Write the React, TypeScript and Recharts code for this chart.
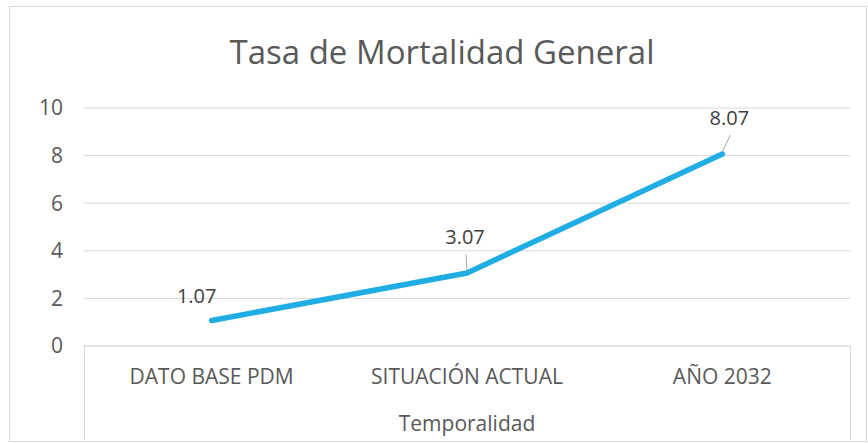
import { LineChart, Line, XAxis, YAxis, CartesianGrid, LabelList, Label } from 'recharts'

const categories = ['DATO BASE PDM', 'SITUACIÓN ACTUAL', 'AÑO 2032']
const tasa = [1.07, 3.07, 8.07]
const yTicks = [0, 2, 4, 6, 8, 10]

// manual nudges of the data labels (Excel moved them by hand)
const labelNudge = [
  { dx: -15, dy: -25 },
  { dx: -2, dy: -36 },
  { dx: 7, dy: -36 }
]

const data = categories.map((name, i) => ({ name, tasa: tasa[i] }))

const FONT = '"Open Sans", sans-serif'
const GRID = '#d9d9d9'
const BLUE = '#1fade4'

const DataLabel = (props: any) => {
  const { x, y, value, index } = props
  const n = labelNudge[index] || { dx: 0, dy: -25 }
  const lx = x + n.dx
  const ly = y + n.dy
  const showLeader = Math.abs(n.dy) > 30
  return (
    <g>
      {showLeader && (
        <line x1={lx + 1} y1={ly + 17} x2={x} y2={y - 2} stroke="#a6a6a6" strokeWidth={1} />
      )}
      <text x={lx} y={ly} textAnchor="middle" dominantBaseline="central" fill="#404040" fontSize={20} fontFamily={FONT}>
        {Number(value).toFixed(2)}
      </text>
    </g>
  )
}

const App = () => {
  return (
    <div style={{ position: 'absolute', left: 0, top: 0, width: 868, height: 443, background: '#fff' }}>
      <div style={{ position: 'absolute', left: 9, top: 6, width: 856, height: 434, border: `1px solid ${GRID}` }} />
      <div
        style={{
          position: 'absolute',
          left: 0,
          top: 30,
          width: 884,
          textAlign: 'center',
          fontFamily: FONT,
          fontSize: 33,
          color: '#595959',
          lineHeight: '44px'
        }}
      >
        Tasa de Mortalidad General
      </div>
      <div style={{ position: 'absolute', left: 84, top: 346, width: 1, height: 94, background: GRID }} />
      <div style={{ position: 'absolute', left: 850, top: 346, width: 1, height: 94, background: GRID }} />
      <div style={{ position: 'absolute', left: 0, top: 0 }}>
        <LineChart width={868} height={443} data={data} margin={{ top: 108, right: 18, bottom: 0, left: 0 }}>
          <CartesianGrid vertical={false} stroke={GRID} strokeWidth={1} />
          <XAxis
            dataKey="name"
            height={97}
            padding={{ left: 127.67, right: 127.67 }}
            axisLine={{ stroke: GRID }}
            tickLine={false}
            tickMargin={17}
            tick={{ fill: '#595959', fontSize: 21, fontFamily: FONT }}
            interval={0}
          >
            <Label value="Temporalidad" position="insideBottom" offset={12} fill="#595959" fontSize={21} fontFamily={FONT} />
          </XAxis>
          <YAxis
            width={84}
            domain={[0, 10]}
            ticks={yTicks}
            axisLine={false}
            tickLine={false}
            tickMargin={15}
            tick={{ fill: '#595959', fontSize: 21, fontFamily: FONT }}
          />
          <Line
            dataKey="tasa"
            stroke={BLUE}
            strokeWidth={5.5}
            strokeLinecap="round"
            strokeLinejoin="round"
            dot={false}
            activeDot={false}
            isAnimationActive={false}
          >
            <LabelList dataKey="tasa" content={DataLabel} />
          </Line>
        </LineChart>
      </div>
    </div>
  )
}

export default App
